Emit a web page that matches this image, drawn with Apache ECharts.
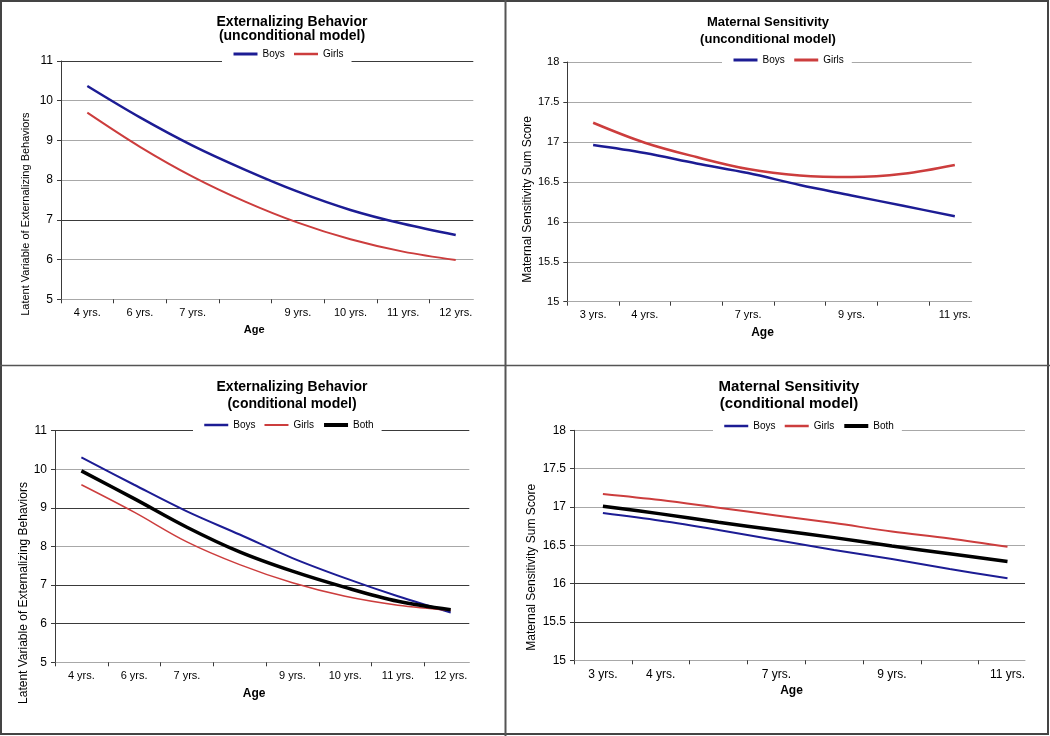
<!DOCTYPE html>
<html>
<head>
<meta charset="utf-8">
<title>Externalizing Behavior and Maternal Sensitivity</title>
<script src="https://cdn.jsdelivr.net/npm/echarts@6/dist/echarts.min.js"></script>
<style>
    html, body { margin: 0; padding: 0; background: #fff; }
    #chart { width: 1050px; height: 736px; }
</style>
</head>
<body>
<div id="chart"></div>
<script>
// category labels (blank slots have no label in the original)
const extAges = ['4 yrs.', '6 yrs.', '7 yrs.', '', '9 yrs.', '10 yrs.', '11 yrs.', '12 yrs.']
const matAges = ['3 yrs.', '4 yrs.', '', '7 yrs.', '', '9 yrs.', '', '11 yrs.']

// externalizing, unconditional model
const extUncondBoys = [10.37, 9.58, 8.87, 8.26, 7.71, 7.25, 6.90, 6.62]
const extUncondGirls = [9.70, 8.84, 8.09, 7.46, 6.93, 6.51, 6.20, 5.99]

// maternal sensitivity, unconditional model
const matUncondBoys = [16.96, 16.86, 16.73, 16.61, 16.46, 16.33, 16.20, 16.07]
const matUncondGirls = [17.24, 16.99, 16.81, 16.66, 16.58, 16.56, 16.60, 16.71]

// externalizing, conditional model
const extCondBoys = [10.31, 9.60, 8.91, 8.31, 7.70, 7.18, 6.71, 6.29]
const extCondGirls = [9.60, 8.89, 8.12, 7.53, 7.06, 6.71, 6.48, 6.35]
const extCondBoth = [9.96, 9.24, 8.50, 7.86, 7.36, 6.94, 6.58, 6.36]

// maternal sensitivity, conditional model
const matCondBoys = [16.92, 16.82, 16.70, 16.57, 16.44, 16.32, 16.19, 16.07]
const matCondGirls = [17.17, 17.09, 16.99, 16.89, 16.79, 16.68, 16.59, 16.48]
const matCondBoth = [17.01, 16.91, 16.80, 16.70, 16.60, 16.49, 16.39, 16.29]

const FONT = '"Liberation Sans", Arial, sans-serif'
const BLUE = '#1c1c94'
const RED = '#cc3d3d'
const BLACK = '#000000'
const GRAY = '#a8a8a8'
const DARK = '#3a3a3a'

// layout of the four panels
const panels = [
    {
        title: 'Externalizing Behavior\n(unconditional model)', tx: 292, ty: 28.7, tSize: 14, tLine: 14,
        ages: extAges, yName: 'Latent Variable of Externalizing Behaviors',
        series: [['Boys', extUncondBoys, BLUE, 2.5], ['Girls', extUncondGirls, RED, 2]],
        grid: { left: 61, top: 61, width: 412.3, height: 238.3 }, catW: 52.63,
        yMin: 5, yMax: 11, yStep: 1, splitColors: [GRAY, GRAY, DARK, GRAY, GRAY, GRAY, DARK],
        legend: { left: 222, top: 47 },
        yNameGap: 30, yNameShift: 34, yNameSize: 11, yLabelSize: 12, xLabelSize: 11,
        xNameGap: 25, xNameShift: 13, xNameSize: 11
    },
    {
        title: 'Maternal Sensitivity\n(unconditional model)', tx: 768, ty: 31, tSize: 13, tLine: 16.5,
        ages: matAges, yName: 'Maternal Sensitivity Sum Score',
        series: [['Boys', matUncondBoys, BLUE, 2.5], ['Girls', matUncondGirls, RED, 2.5]],
        grid: { left: 567.3, top: 62, width: 404.4, height: 239.7 }, catW: 51.67,
        yMin: 15, yMax: 18, yStep: 0.5, splitColors: [GRAY],
        legend: { left: 722, top: 53 },
        yNameGap: 32, yNameShift: 17.5, yNameSize: 12, yLabelSize: 11, xLabelSize: 11,
        xNameGap: 25, xNameShift: 7, xNameSize: 12
    },
    {
        title: 'Externalizing Behavior\n(conditional model)', tx: 292, ty: 395.5, tSize: 14, tLine: 16.3,
        ages: extAges, yName: 'Latent Variable of Externalizing Behaviors',
        series: [['Boys', extCondBoys, BLUE, 2], ['Girls', extCondGirls, RED, 1.5], ['Both', extCondBoth, BLACK, 3.5]],
        grid: { left: 55, top: 430.7, width: 414.3, height: 231.6 }, catW: 52.76,
        yMin: 5, yMax: 11, yStep: 1, splitColors: [GRAY, DARK, DARK, GRAY, DARK, GRAY, DARK],
        legend: { left: 193, top: 418 },
        yNameGap: 20, yNameShift: 46.5, yNameSize: 12, yLabelSize: 12, xLabelSize: 11,
        xNameGap: 25, xNameShift: 8, xNameSize: 12
    },
    {
        title: 'Maternal Sensitivity\n(conditional model)', tx: 789, ty: 395.7, tSize: 15, tLine: 16.7,
        ages: matAges, yName: 'Maternal Sensitivity Sum Score',
        series: [['Boys', matCondBoys, BLUE, 2], ['Girls', matCondGirls, RED, 2], ['Both', matCondBoth, BLACK, 3.5]],
        grid: { left: 574, top: 430.3, width: 451, height: 230 }, catW: 57.8,
        yMin: 15, yMax: 18, yStep: 0.5, splitColors: [GRAY, DARK, DARK, GRAY, GRAY, GRAY, GRAY],
        legend: { left: 713, top: 419 },
        yNameGap: 36, yNameShift: 22, yNameSize: 12, yLabelSize: 12, xLabelSize: 12,
        xNameGap: 24, xNameShift: 8, xNameSize: 12
    }
]

const option = {
    animation: false,
    backgroundColor: '#fff',
    textStyle: { fontFamily: FONT },
    grid: [],
    xAxis: [],
    yAxis: [],
    legend: [],
    series: [],
    graphic: [
        { type: 'rect', shape: { x: 1, y: 1, width: 1047, height: 733 }, style: { fill: 'none', stroke: '#444', lineWidth: 2 }, z: 100 },
        { type: 'line', shape: { x1: 505.5, y1: 0, x2: 505.5, y2: 736 }, style: { stroke: '#555', lineWidth: 2 }, z: 100 },
        { type: 'line', shape: { x1: 0, y1: 365.5, x2: 1050, y2: 365.5 }, style: { stroke: '#555', lineWidth: 1.5 }, z: 100 }
    ]
}

panels.forEach((p, i) => {
    const n = p.ages.length
    const tickPos = Array.from({ length: n }, (_, k) => k)
    const labelPos = Array.from({ length: n }, (_, k) => k + 0.5)

    option.grid.push(Object.assign({ containLabel: false }, p.grid))

    option.xAxis.push({
        type: 'value',
        gridIndex: i,
        min: 0,
        max: p.grid.width / p.catW,
        axisLine: { show: true, lineStyle: { color: GRAY, width: 1 } },
        axisTick: { show: true, length: 4, lineStyle: { color: DARK }, customValues: tickPos },
        axisLabel: {
            customValues: labelPos,
            formatter: v => p.ages[Math.round(v - 0.5)] || '',
            margin: 8,
            color: '#000',
            fontSize: p.xLabelSize,
            fontFamily: FONT
        },
        splitLine: { show: false },
        name: 'Age',
        nameLocation: 'middle',
        nameGap: p.xNameGap,
        nameTextStyle: {
            color: '#000', fontWeight: 'bold', fontSize: p.xNameSize, fontFamily: FONT,
            padding: [0, p.xNameShift * 2, 0, 0]
        }
    })

    option.yAxis.push({
        type: 'value',
        gridIndex: i,
        min: p.yMin,
        max: p.yMax,
        interval: p.yStep,
        axisLine: { show: true, lineStyle: { color: DARK, width: 1 } },
        axisTick: { show: true, length: 4, lineStyle: { color: DARK } },
        axisLabel: { margin: 8, color: '#000', fontSize: p.yLabelSize, fontFamily: FONT },
        splitLine: { show: true, lineStyle: { color: p.splitColors, width: 1 } },
        name: p.yName,
        nameLocation: 'middle',
        nameGap: p.yNameGap,
        nameTextStyle: {
            color: '#000', fontSize: p.yNameSize, fontFamily: FONT,
            padding: [0, p.yNameShift * 2, 0, 0]
        }
    })

    option.legend.push({
        left: p.legend.left,
        top: p.legend.top,
        orient: 'horizontal',
        data: p.series.map(s => ({ name: s[0], lineStyle: { width: s[3] + 0.5 } })),
        itemWidth: 24,
        itemHeight: 10,
        itemGap: 8,
        itemStyle: { opacity: 0 },
        padding: [2, 8, 4, 10],
        backgroundColor: '#fff',
        textStyle: { fontSize: 10, color: '#000', fontFamily: FONT },
        selectedMode: false
    })

    p.series.forEach(s => {
        option.series.push({
            type: 'line',
            name: s[0],
            xAxisIndex: i,
            yAxisIndex: i,
            data: s[1].map((v, k) => [k + 0.5, v]),
            smooth: 0.35,
            symbol: 'none',
            color: s[2],
            lineStyle: { color: s[2], width: s[3] }
        })
    })

    option.graphic.push({
        type: 'text',
        x: p.tx,
        y: p.ty,
        style: {
            text: p.title,
            fill: '#000',
            fontSize: p.tSize,
            fontWeight: 'bold',
            fontFamily: FONT,
            lineHeight: p.tLine,
            align: 'center',
            verticalAlign: 'middle'
        }
    })
})

const chart = echarts.init(document.getElementById('chart'))
chart.setOption(option)
window.addEventListener('resize', () => chart.resize())
</script>
</body>
</html>
